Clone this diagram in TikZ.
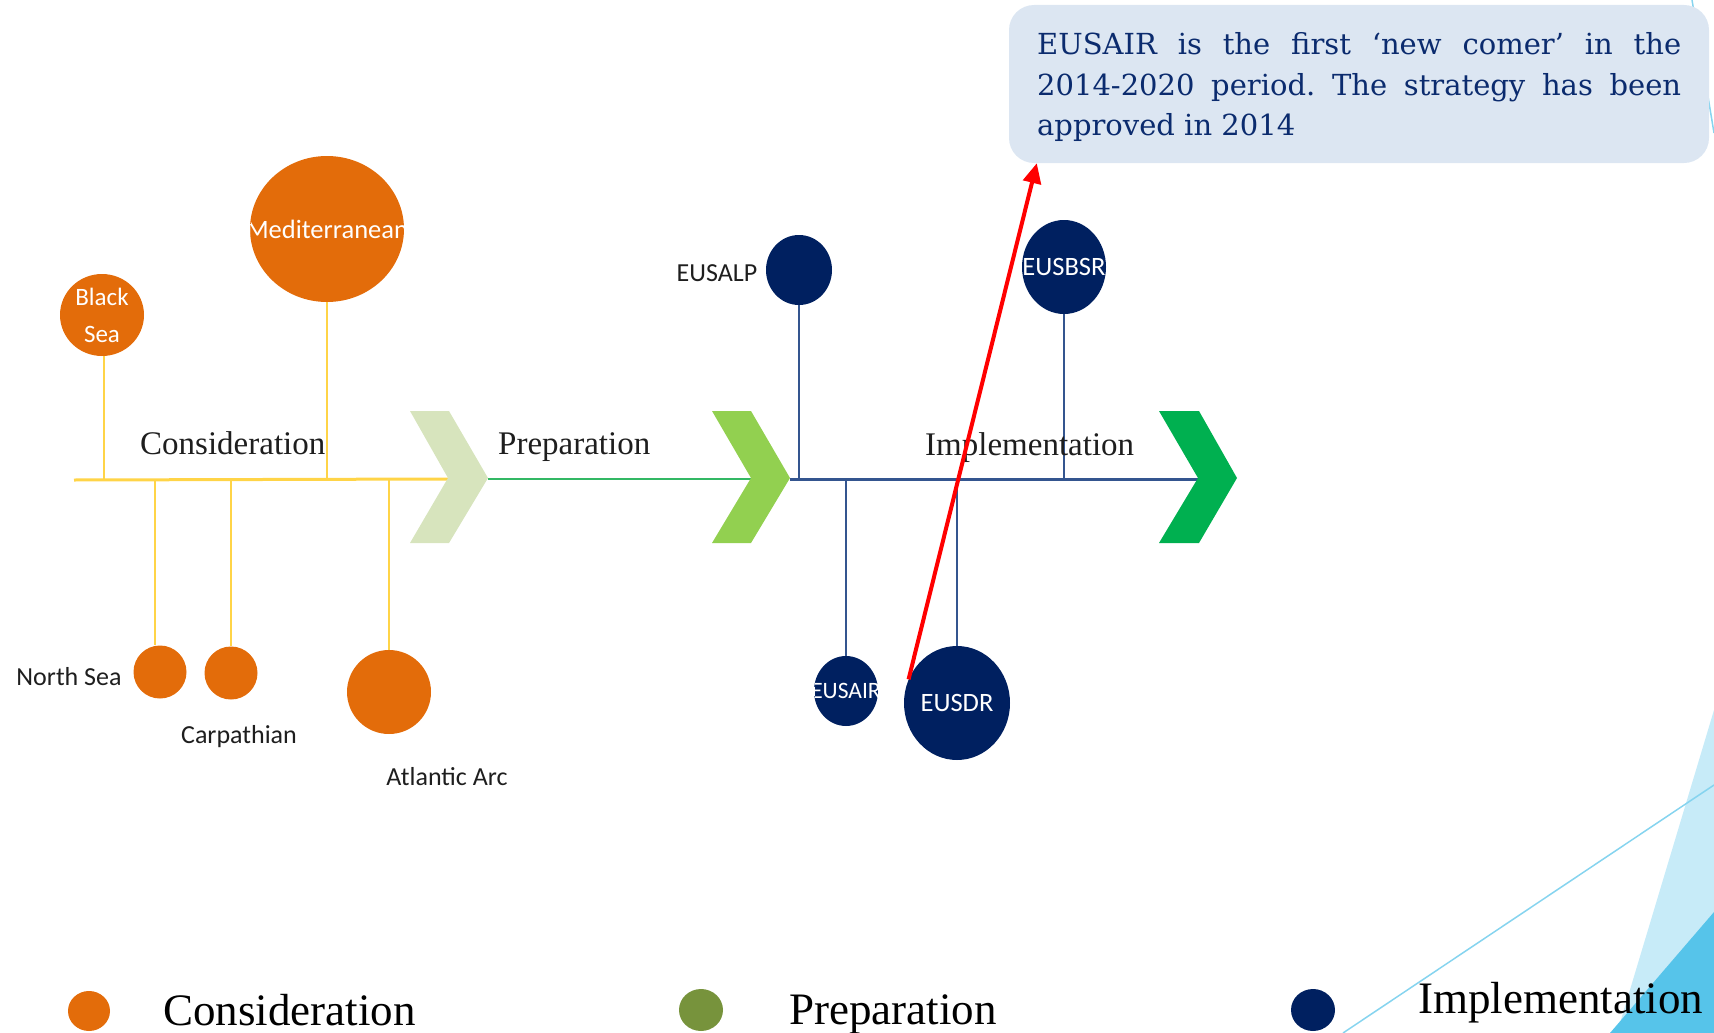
\documentclass[tikz,border=0pt]{standalone}
\usepackage{fontspec}
\setmainfont{Liberation Serif}
\newfontfamily\sansf{Carlito}
\newfontfamily\callf{DejaVu Serif}
\usetikzlibrary{arrows.meta,shapes.geometric,calc}
\definecolor{eorange}{HTML}{E36C0A}
\definecolor{enavy}{HTML}{002060}
\definecolor{eyellow}{HTML}{FFD447}
\definecolor{chevA}{HTML}{D7E4BD}
\definecolor{chevB}{HTML}{92D050}
\definecolor{chevC}{HTML}{00B050}
\definecolor{greenline}{HTML}{33B864}
\definecolor{linenavy}{HTML}{34558F}
\definecolor{callfill}{HTML}{DCE6F2}
\definecolor{calltext}{HTML}{0B2B6E}
\definecolor{legreen}{HTML}{77933C}
\definecolor{lightsky}{HTML}{C7EBF8}
\definecolor{darksky}{HTML}{56C4EA}
\definecolor{skyline}{HTML}{86D4EF}
\definecolor{labelgray}{HTML}{1E1E1E}
\newcommand\sanssz[1]{\sansf\fontsize{#1}{#1}\selectfont}
\frenchspacing
\begin{document}
\begin{tikzpicture}[x=1pt,y=-1pt,
  dot/.style={ellipse,inner sep=0pt,draw=none},
  odot/.style={dot,fill=eorange},
  ndot/.style={dot,fill=enavy},
  intext/.style={shape=rectangle,inner sep=0pt,minimum width=0pt,minimum height=0pt,fill=none,draw=none,text=white,font=\sanssz{26}},
  slabel/.style={inner sep=0pt,text=labelgray,font=\sanssz{26}},
  stagelabel/.style={anchor=base west,inner sep=0pt,text=labelgray,font=\fontsize{33}{40}\selectfont},
  legtext/.style={anchor=base west,inner sep=0pt,text=black,font=\fontsize{45}{50}\selectfont},
  ystem/.style={draw=eyellow,line width=2pt},
  nstem/.style={draw=linenavy,line width=2pt},
  skythin/.style={draw=skyline,line width=1.5pt}
]
\useasboundingbox (0,0) rectangle (1714,1033);

% background decoration
\fill[lightsky] (1714,710) -- (1617,1033) -- (1714,1033) -- cycle;
\fill[darksky] (1714,912) -- (1610,1033) -- (1714,1033) -- cycle;
\draw[skythin] (1343,1033) -- (1714,785);
\draw[skythin] (1692,0) -- (1714,133);

% callout
\node[fill=callfill,draw=none,rounded corners=25pt,minimum width=700pt,minimum height=158pt,inner sep=0pt] (box) at (1359,84) {};
\node[anchor=base west,inner sep=0pt,text=calltext,font=\callf\fontsize{29}{40.5}\selectfont] (boxtext) at (1037,55)
  {\parbox[t]{644pt}{\makebox[644pt][s]{EUSAIR is the first ‘new comer’ in the}\\
   \makebox[644pt][s]{2014-2020 period. The strategy has been}\\
   approved in 2014}};

% spine coordinates
\coordinate (ys) at (74,480);
\coordinate (c1n) at (448,479);
\coordinate (c1t) at (488,479);
\coordinate (c2n) at (751,479);
\coordinate (c2t) at (790,479);
\coordinate (c3n) at (1199,479);

\draw[eyellow,line width=3pt] (ys) -- (c1n);
\draw[greenline,line width=2.5pt] (c1t) -- (c2n);
\draw[linenavy,line width=3pt] (c2t) -- (c3n);

% chevrons
\fill[chevA] (410,411) -- (449,411) -- (488,478) -- (449,543) -- (410,543) -- (448,478) -- cycle;
\fill[chevB] (712,411) -- (751,411) -- (790,478) -- (751,543) -- (712,543) -- (751,478) -- cycle;
\fill[chevC] (1159,411) -- (1199,411) -- (1237,478) -- (1199,543) -- (1159,543) -- (1198,478) -- cycle;

% consideration circles
\node[odot,minimum width=84pt,minimum height=82pt,
  path picture={\node[intext,font=\sanssz{25}] at ([yshift=18pt]path picture bounding box.center) {Black};
                \node[intext,font=\sanssz{25}] at ([yshift=-19pt]path picture bounding box.center) {Sea};}] (blacksea) at (102,315) {};
\node[odot,minimum width=154pt,minimum height=146pt,
  path picture={\node[intext,font=\sanssz{26.5}] at (path picture bounding box.center) {Mediterranean};}] (med) at (327,229) {};
\node[odot,minimum size=53pt] (northsea) at (160,672) {};
\node[odot,minimum size=53pt] (carp) at (231,673) {};
\node[odot,minimum size=84pt] (atl) at (389,692) {};

\draw[ystem] ([xshift=2pt]blacksea.south) -- ([xshift=2pt]blacksea.south |- ys);
\draw[ystem] (med.south) -- (med.south |- ys);
\draw[ystem] ([xshift=-5pt]northsea.north |- ys) -- ([xshift=-5pt]northsea.north);
\draw[ystem] (carp.north |- ys) -- (carp.north);
\draw[ystem] (atl.north |- ys) -- (atl.north);

% implementation circles
\node[ndot,minimum width=66pt,minimum height=70pt] (eusalp) at (799,270) {};
\node[ndot,minimum width=84pt,minimum height=94pt,
  path picture={\node[intext,font=\sanssz{26.5}] at (path picture bounding box.center) {EUSBSR};}] (eusbsr) at (1064,267) {};
\node[ndot,minimum width=64pt,minimum height=70pt,
  path picture={\node[intext,font=\sanssz{23.5}] at (path picture bounding box.center) {EUSAIR};}] (eusair) at (846,691) {};
\node[ndot,minimum width=106pt,minimum height=114pt,
  path picture={\node[intext,font=\sanssz{26.5}] at (path picture bounding box.center) {EUSDR};}] (eusdr) at (957,703) {};

\draw[nstem] (eusalp.south) -- (eusalp.south |- c2t);
\draw[nstem] (eusbsr.south) -- (eusbsr.south |- c2t);
\draw[nstem] (eusair.north |- c2t) -- (eusair.north);
\draw[nstem] (eusdr.north |- c2t) -- (eusdr.north);

% labels
\node[slabel] (lalp) at (717,273) {EUSALP};
\node[slabel] (lns) at (69,677) {North Sea};
\node[slabel] (lcarp) at (239,737) {Carpathian};
\node[slabel] (latl) at (447,777) {Atlantic Arc};

\node[stagelabel] (tcons) at (140,454) {Consideration};
\node[stagelabel] (tprep) at (498,454) {Preparation};
\node[stagelabel] (timpl) at (925,455) {Implementation};

% legend
\node[odot,minimum width=42pt,minimum height=40pt] (lg1) at (89,1011) {};
\node[legtext] (lt1) at (163,1025) {Consideration};
\node[dot,fill=legreen,minimum width=44pt,minimum height=42pt] (lg2) at (701,1010) {};
\node[legtext] (lt2) at (789,1024) {Preparation};
\node[ndot,minimum width=44pt,minimum height=42pt] (lg3) at (1313,1010) {};
\node[legtext] (lt3) at (1418,1013) {Implementation};

% red arrow
\draw[red,line width=4pt,-{Triangle[length=20pt,width=18pt]}] (eusdr.154) -- ($(box.south west)+(28,0)$);
\end{tikzpicture}
\end{document}
